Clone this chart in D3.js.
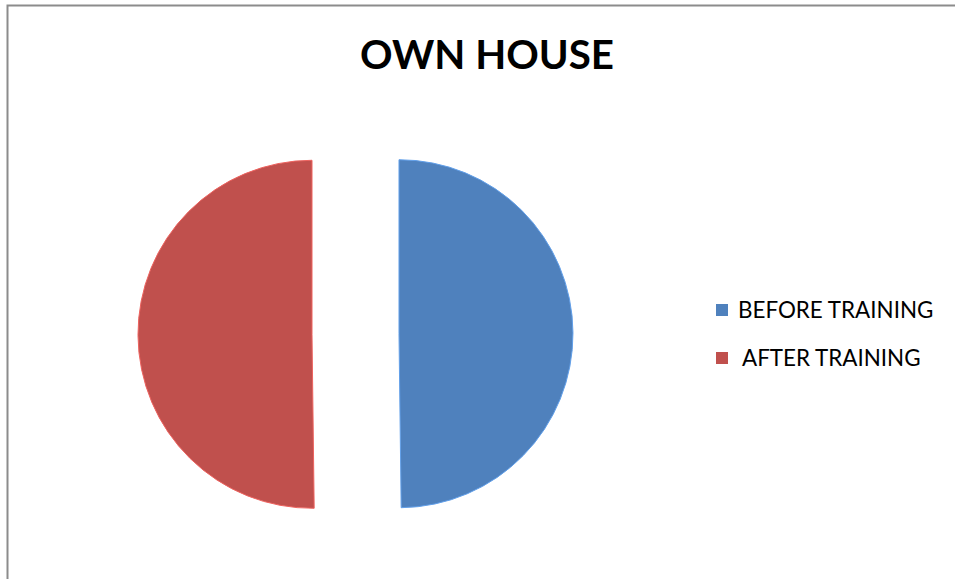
<!DOCTYPE html>
<meta charset="utf-8">
<style>
  body { margin: 0; background: #fff; }
  text { font-family: Lato, "Open Sans", sans-serif; }
</style>
<script src="https://d3js.org/d3.v7.min.js"></script>
<div id="chart"></div>
<script>

  // data
  var categories = ["BEFORE TRAINING", "AFTER TRAINING"];
  var values = [249, 251];
  var colors = ["#4F81BD", "#C0504D"];
  var title = "OWN HOUSE";

  var width = 955, height = 579;

  var svg = d3.select("#chart")
    .append("svg")
      .attr("width", width)
      .attr("height", height);

  // chart frame (runs off the right and bottom edges)
  svg.append("path")
    .attr("d", "M7.5," + height + "V5.5H" + width)
    .attr("fill", "none")
    .attr("stroke", "#8c8c8c")
    .attr("stroke-width", 2);

  // title
  svg.append("text")
    .attr("x", 487)
    .attr("y", 69)
    .attr("text-anchor", "middle")
    .style("font-size", "40.3px")
    .style("font-weight", "bold")
    .text(title);

  var color = d3.scaleOrdinal().domain(categories).range(colors);

  var data = categories.map(function(c, i) { return {group: c, value: values[i]}; });

  var pie = d3.pie()
    .sort(null)
    .value(function(d) { return d.value; });

  var r = 174, explode = 43.5;
  var arc = d3.arc().innerRadius(0).outerRadius(r);

  var g = svg.append("g")
    .attr("transform", "translate(355.5,334)");

  g.selectAll("path")
    .data(pie(data))
    .enter()
    .append("path")
      .attr("d", arc)
      .attr("transform", function(d) {
        var a = (d.startAngle + d.endAngle) / 2;
        return "translate(" + (Math.sin(a) * explode) + "," + (-Math.cos(a) * explode) + ")";
      })
      .attr("fill", function(d) { return color(d.data.group); })
      .attr("stroke", function(d) { return d3.color(color(d.data.group)).brighter(0.6); })
      .attr("stroke-width", 1);

  // legend
  var legend = svg.selectAll(".legend")
    .data(data)
    .enter()
    .append("g")
      .attr("class", "legend")
      .attr("transform", function(d, i) { return "translate(716," + (304 + i * 48) + ")"; });

  legend.append("rect")
    .attr("width", 12)
    .attr("height", 12)
    .attr("fill", function(d) { return color(d.group); });

  legend.append("text")
    .attr("x", function(d, i) { return i == 0 ? 22 : 26; })
    .attr("y", 14)
    .style("font-size", "22.4px")
    .text(function(d) { return d.group; });

</script>
